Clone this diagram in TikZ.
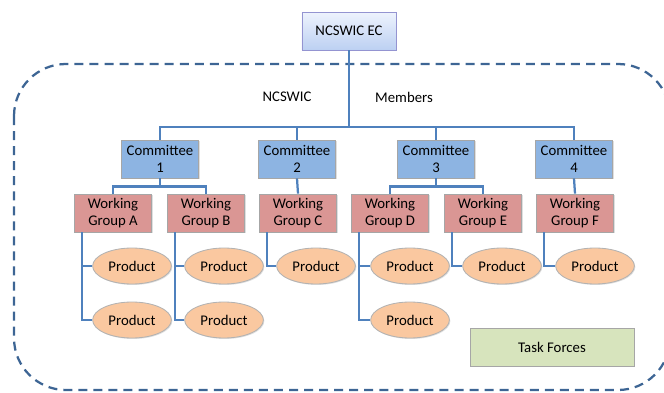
\documentclass[tikz,border=0pt]{standalone}
\usepackage{fontspec}
\setmainfont{Carlito}
\usetikzlibrary{shadows,shapes.geometric}

\definecolor{linkblue}{HTML}{4F81BD}
\definecolor{dashblue}{HTML}{3D6594}
\definecolor{comfill}{HTML}{8DB4E2}
\definecolor{wgfill}{HTML}{DA9694}
\definecolor{prodfill}{HTML}{FAC8A0}
\definecolor{tffill}{HTML}{D7E4BD}
\definecolor{ectop}{HTML}{EEF3FD}
\definecolor{ecbottom}{HTML}{BCD0F2}

\tikzset{
  box/.style={draw=gray!70, line width=0.6pt, minimum width=54.8pt, minimum height=27pt,
    inner sep=0pt, align=center, font=\fontsize{10.5}{12}\selectfont,
    drop shadow={opacity=0.25, shadow xshift=0.7pt, shadow yshift=-0.7pt}},
  ecbox/.style={box, draw=gray!60!blue!60, minimum width=66.9pt, top color=ectop, bottom color=ecbottom},
  combox/.style={box, fill=comfill},
  wgbox/.style={box, fill=wgfill},
  prod/.style={ellipse, draw=gray!60, line width=0.6pt, fill=prodfill, minimum width=56pt,
    minimum height=25.6pt, inner sep=0pt, font=\fontsize{10.5}{12}\selectfont,
    drop shadow={opacity=0.25, shadow xshift=0.7pt, shadow yshift=-0.7pt}},
  tfbox/.style={box, fill=tffill, minimum width=116.7pt},
  link/.style={linkblue, line width=1.6pt},
}

\begin{document}
\begin{tikzpicture}[x=0.025cm, y=-0.025cm]
    \useasboundingbox (0,0) rectangle (664,393);
    \begin{scope}
        \clip (0,0) rectangle (664,393);
        \draw[dashblue, line width=1.6pt, dash pattern=on 6.4pt off 4.3pt, rounded corners=37pt] (14,64) rectangle (670,390);
    \end{scope}

    % executive committee
    \node[ecbox] (ec) at (349,31) {NCSWIC EC};
    \node[font=\fontsize{10.5}{12}\selectfont] (ncswic) at (287,97) {NCSWIC};
    \node[font=\fontsize{10.5}{12}\selectfont] (members) at (404,97) {Members};
    \coordinate (bus) at (349,127);

    % committees
    \node[combox] (c1) at (160,159) {Committee\\1};
    \node[combox] (c2) at (297,159) {Committee\\2};
    \node[combox] (c3) at (436,159) {Committee\\3};
    \node[combox] (c4) at (574,159) {Committee\\4};

    % working groups
    \node[wgbox] (wgA) at (113,213) {Working\\Group A};
    \node[wgbox] (wgB) at (206,213) {Working\\Group B};
    \node[wgbox] (wgC) at (298,213) {Working\\Group C};
    \node[wgbox] (wgD) at (390,213) {Working\\Group D};
    \node[wgbox] (wgE) at (483,213) {Working\\Group E};
    \node[wgbox] (wgF) at (575,213) {Working\\Group F};

    % products
    \node[prod] (pA1) at (132,266) {Product};
    \node[prod] (pA2) at (132,320) {Product};
    \node[prod] (pB1) at (224,266) {Product};
    \node[prod] (pB2) at (224,320) {Product};
    \node[prod] (pC1) at (316,266) {Product};
    \node[prod] (pD1) at (410,266) {Product};
    \node[prod] (pD2) at (410,320) {Product};
    \node[prod] (pE1) at (502,266) {Product};
    \node[prod] (pF1) at (595,266) {Product};

    \node[tfbox] (tf) at (552,347) {Task Forces};

    % connectors
    \draw[link] (ec.south) -- (bus);
    \foreach \c in {c1,c2,c3,c4}
        \draw[link] (bus) -| (\c.north);
    \draw[link] (c1.south) -- ++(0,8) -| (wgA.north);
    \draw[link] (c1.south) -- ++(0,8) -| (wgB.north);
    \draw[link] (c2.south) -- (wgC.north);
    \draw[link] (c3.south) -- ++(0,8) -| (wgD.north);
    \draw[link] (c3.south) -- ++(0,8) -| (wgE.north);
    \draw[link] (c4.south) -- (wgF.north);

    \draw[link] ([xshift=5.7pt]wgA.south west) |- (pA1.west);
    \draw[link] ([xshift=5.7pt]wgA.south west) |- (pA2.west);
    \draw[link] ([xshift=5.7pt]wgB.south west) |- (pB1.west);
    \draw[link] ([xshift=5.7pt]wgB.south west) |- (pB2.west);
    \draw[link] ([xshift=5.7pt]wgC.south west) |- (pC1.west);
    \draw[link] ([xshift=5.7pt]wgD.south west) |- (pD1.west);
    \draw[link] ([xshift=5.7pt]wgD.south west) |- (pD2.west);
    \draw[link] ([xshift=5.7pt]wgE.south west) |- (pE1.west);
    \draw[link] ([xshift=5.7pt]wgF.south west) |- (pF1.west);
\end{tikzpicture}
\end{document}
